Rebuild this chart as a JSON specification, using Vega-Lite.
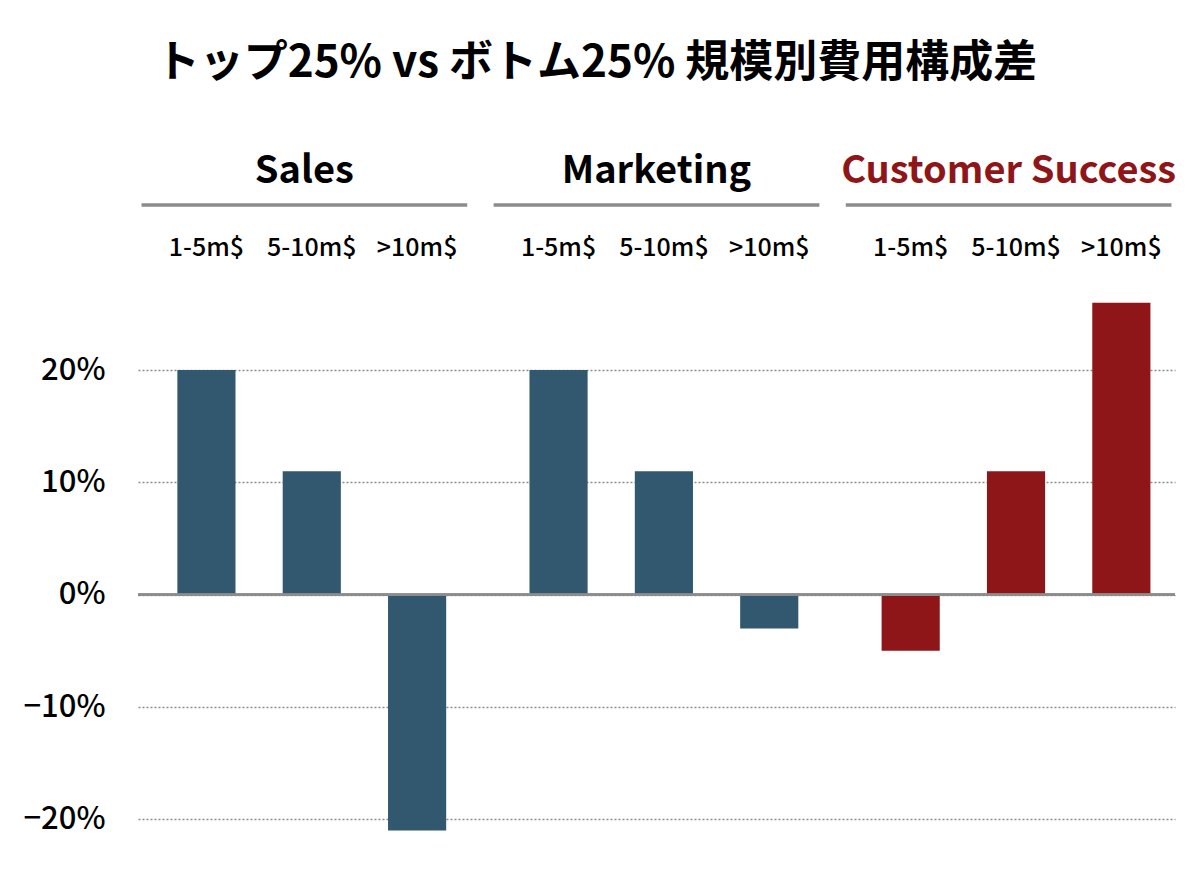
{
  "$schema": "https://vega.github.io/schema/vega-lite/v6.json",
  "autosize": "none",
  "padding": {"left": 138, "top": 123, "right": 25, "bottom": 39},
  "width": 1037,
  "height": 730,
  "background": "white",
  "title": {
    "text": "トップ25% vs ボトム25% 規模別費用構成差",
    "font": "Noto Sans CJK JP",
    "fontSize": 44,
    "fontWeight": "bold",
    "color": "black",
    "anchor": "middle",
    "baseline": "alphabetic",
    "dx": -60,
    "offset": 2
  },
  "datasets": {
    "bars": [
      {"group": "Sales", "size": "1-5m$", "value": 20},
      {"group": "Sales", "size": "5-10m$", "value": 11},
      {"group": "Sales", "size": ">10m$", "value": -21},
      {"group": "Marketing", "size": "1-5m$", "value": 20},
      {"group": "Marketing", "size": "5-10m$", "value": 11},
      {"group": "Marketing", "size": ">10m$", "value": -3},
      {"group": "Customer Success", "size": "1-5m$", "value": -5},
      {"group": "Customer Success", "size": "5-10m$", "value": 11},
      {"group": "Customer Success", "size": ">10m$", "value": 26}
    ],
    "groups": [
      {"group": "Sales"},
      {"group": "Marketing"},
      {"group": "Customer Success"}
    ]
  },
  "encoding": {
    "x": {
      "field": "group",
      "type": "nominal",
      "axis": null,
      "scale": {
        "domain": ["Sales", "Marketing", "Customer Success"],
        "paddingInner": 0.075,
        "paddingOuter": 0.01
      }
    }
  },
  "layer": [
    {
      "data": {"name": "bars"},
      "mark": {"type": "bar"},
      "encoding": {
        "xOffset": {
          "field": "size",
          "type": "nominal",
          "scale": {
            "domain": ["1-5m$", "5-10m$", ">10m$"],
            "paddingInner": 0.448,
            "paddingOuter": 0.27,
            "align": 0.63
          }
        },
        "y": {
          "field": "value",
          "type": "quantitative",
          "title": null,
          "scale": {"domain": [-23, 42], "nice": false, "zero": false},
          "axis": {
            "values": [-20, -10, 0, 10, 20],
            "labelExpr": "format(datum.value, 'd') + '%'",
            "labelFont": "Noto Sans CJK JP",
            "labelFontSize": 31,
            "labelFontWeight": 500,
            "labelColor": "black",
            "labelPadding": 33,
            "ticks": false,
            "domain": false,
            "grid": true,
            "gridColor": "#8c8c8c",
            "gridDash": [2, 2],
            "gridWidth": 1.5
          }
        },
        "color": {
          "condition": {"test": "datum.group === 'Customer Success'", "value": "#8e1619"},
          "value": "#31586f"
        }
      }
    },
    {
      "data": {"name": "bars"},
      "mark": {"type": "rule", "color": "#8c8c8c", "strokeWidth": 2},
      "encoding": {"y": {"datum": 0}, "x": null}
    },
    {
      "data": {"name": "bars"},
      "mark": {
        "type": "text",
        "font": "Noto Sans CJK JP",
        "fontSize": 25,
        "fontWeight": 500,
        "baseline": "middle",
        "align": "center",
        "color": "black"
      },
      "encoding": {
        "xOffset": {"field": "size", "type": "nominal"},
        "y": {"datum": 30.9},
        "text": {"field": "size"}
      }
    },
    {
      "data": {"name": "groups"},
      "mark": {"type": "rect", "color": "#8c8c8c"},
      "encoding": {
        "y": {"datum": 34.85},
        "y2": {"datum": 34.55}
      }
    },
    {
      "data": {"name": "groups"},
      "mark": {
        "type": "text",
        "font": "Noto Sans CJK JP",
        "fontSize": 38,
        "fontWeight": "bold",
        "baseline": "middle",
        "align": "center"
      },
      "encoding": {
        "y": {"datum": 37.6},
        "text": {"field": "group"},
        "color": {
          "condition": {"test": "datum.group === 'Customer Success'", "value": "#8e1619"},
          "value": "black"
        }
      }
    }
  ],
  "config": {
    "view": {"stroke": null}
  }
}
